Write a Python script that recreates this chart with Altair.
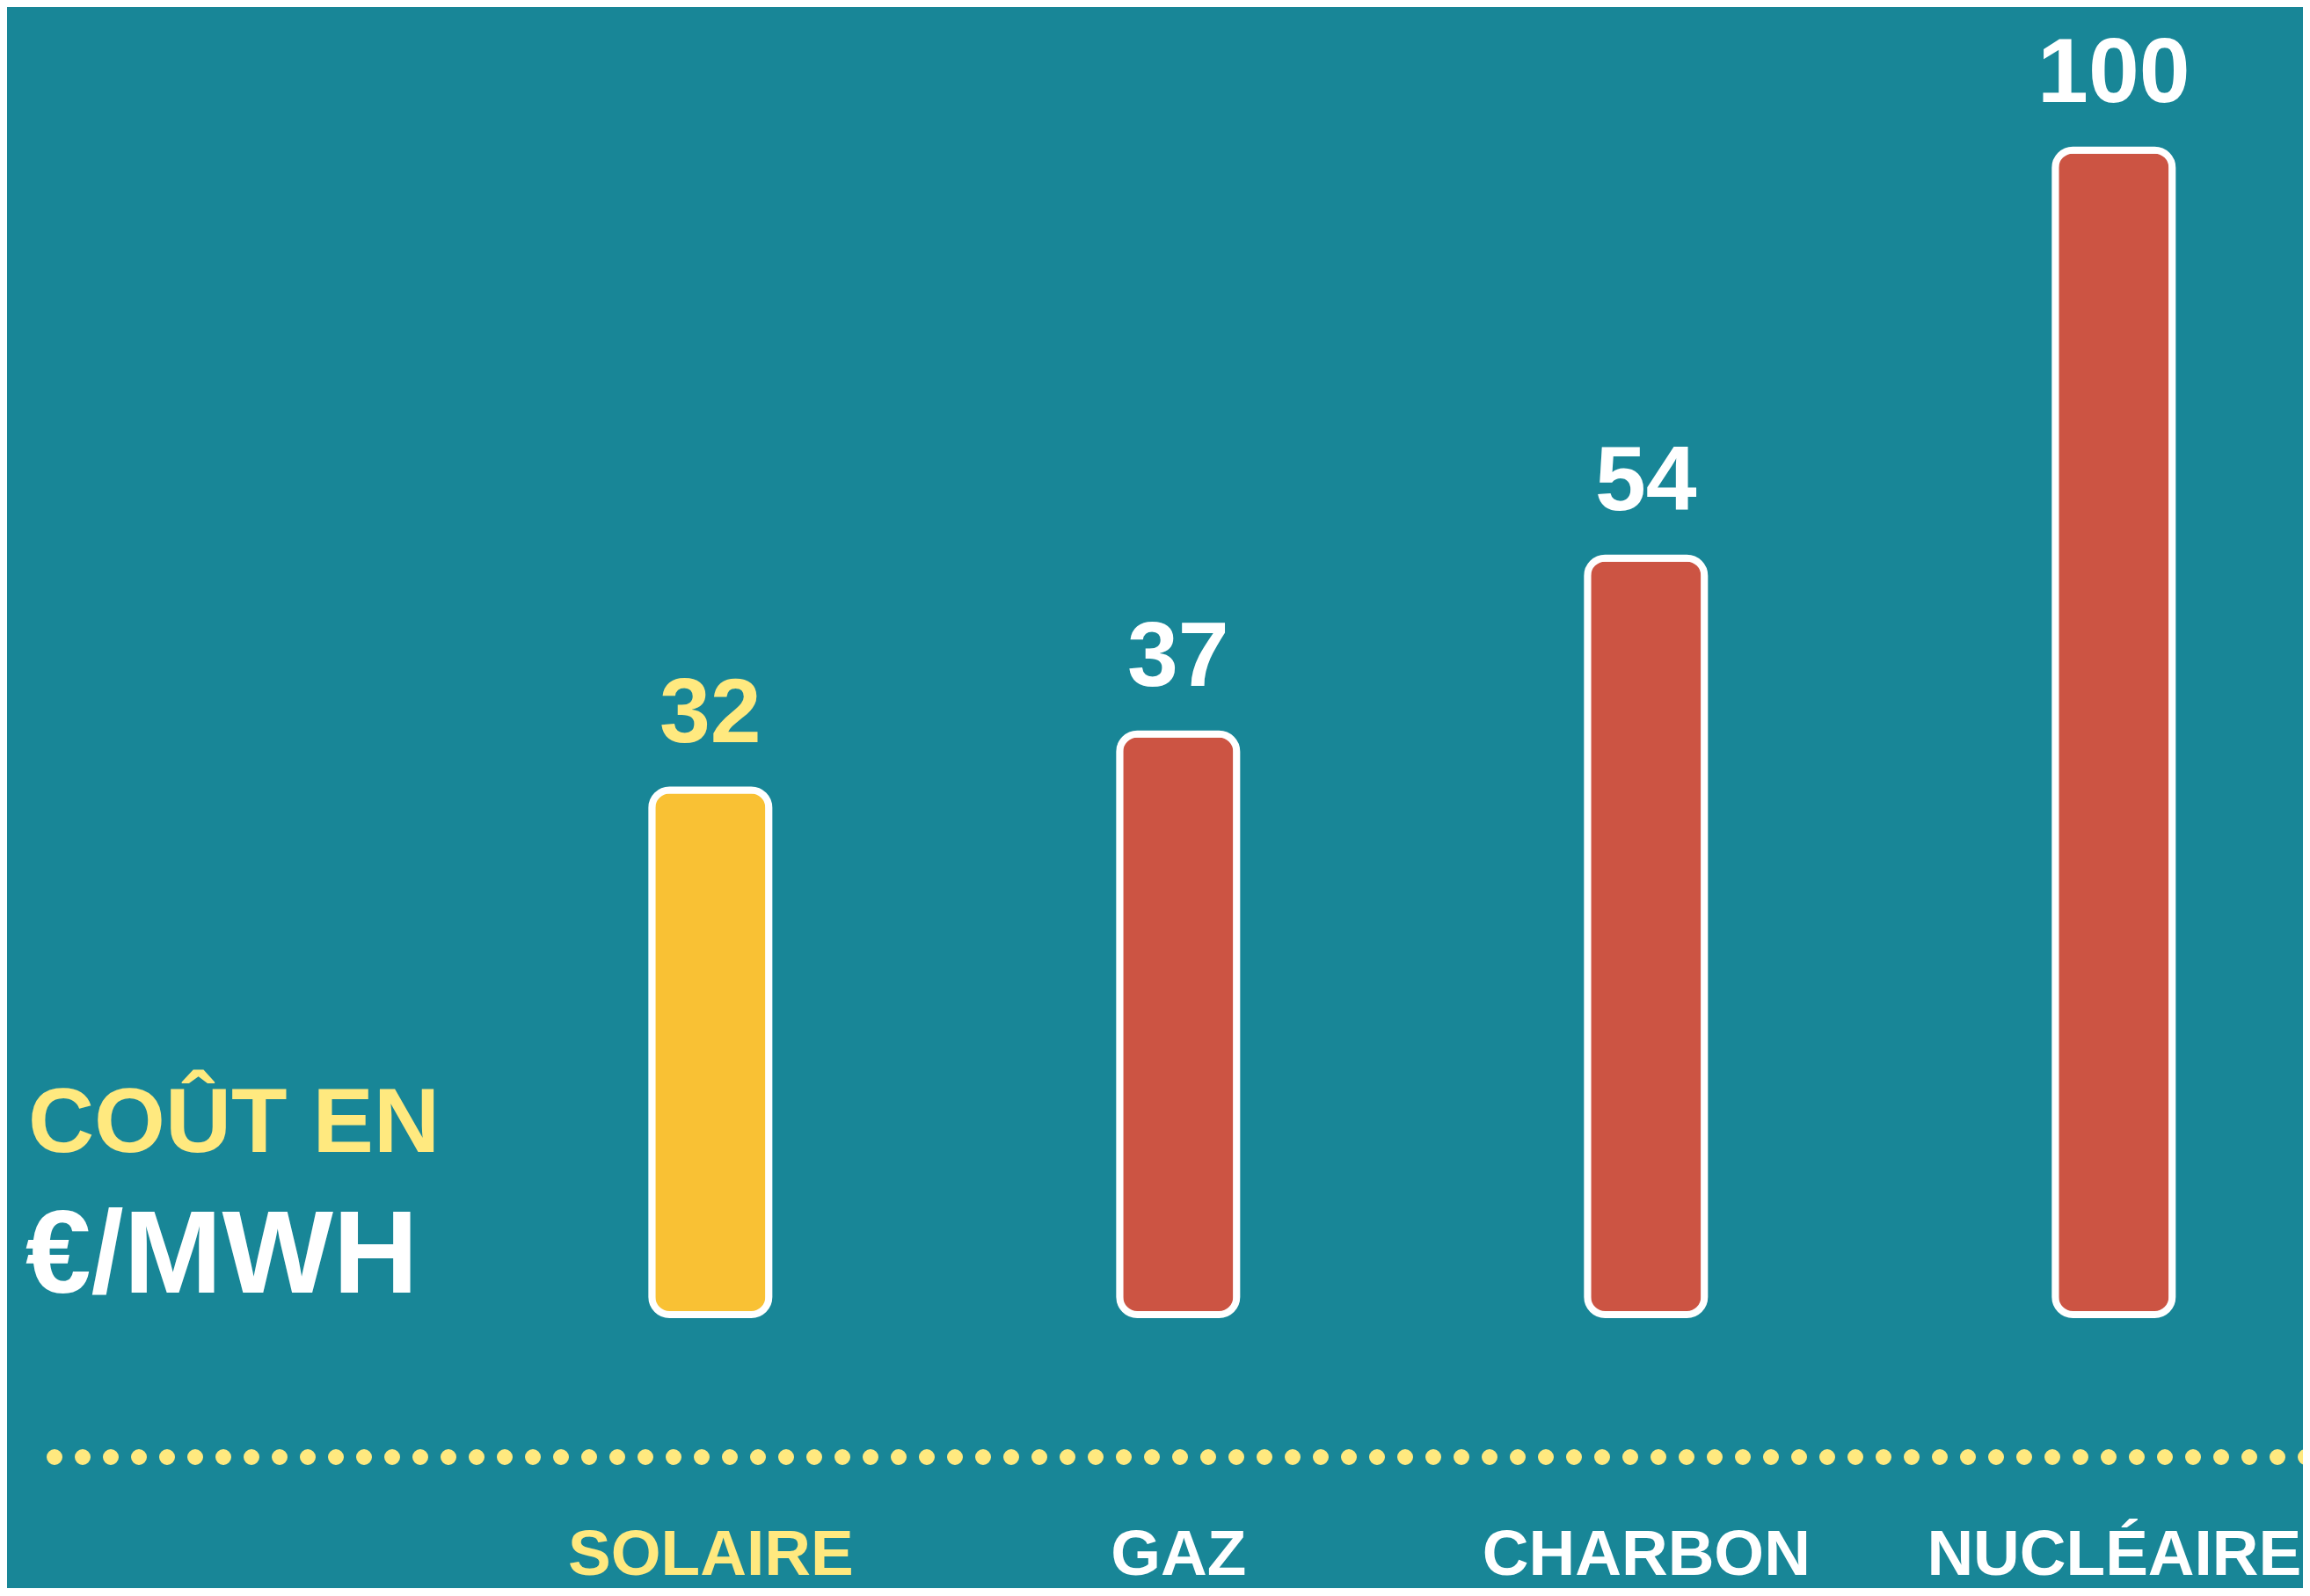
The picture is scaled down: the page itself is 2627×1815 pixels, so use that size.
import altair as alt
import pandas as pd

# ---- data ----
categories = ["SOLAIRE", "GAZ", "CHARBON", "NUCLÉAIRE"]
costs = [32, 37, 54, 100]
bar_colors = ["#F9C134", "#CC5443", "#CC5443", "#CC5443"]
text_colors = ["#FFE97F", "#FFFFFF", "#FFFFFF", "#FFFFFF"]
title_line1 = ["COÛT EN"]
title_line2 = ["€/MWH"]

BG = "#188697"
LIGHT_YELLOW = "#FFE97F"
FONT = "Liberation Sans"

df = pd.DataFrame({
    "cat": categories,
    "cost": costs,
    "bar_color": bar_colors,
    "text_color": text_colors,
})

x_enc = alt.X(
    "cat:N",
    sort=categories,
    scale=alt.Scale(type="point", padding=0.954, align=0.788),
    axis=alt.Axis(
        title=None,
        domain=False,
        ticks=False,
        tickSize=0,
        grid=False,
        labelAngle=0,
        labelFont=FONT,
        labelFontWeight="bold",
        labelFontSize=73,
        labelPadding=295,
        labelBaseline="alphabetic",
        labelLimit=0,
        labelColor=alt.expr(
            " : ".join(
                f"datum.label == '{c}' ? '{col}'" for c, col in zip(categories, text_colors)
            ) + " : '#FFFFFF'"
        ),
    ),
)
y_enc = alt.Y(
    "cost:Q",
    scale=alt.Scale(type="pow", exponent=0.7, domain=[0, 118], nice=False, zero=True),
    axis=None,
)

bars = alt.Chart(df).mark_bar(
    size=133, cornerRadius=20, stroke="#FFFFFF", strokeWidth=8
).encode(
    x=x_enc,
    y=y_enc,
    color=alt.Color("bar_color:N", scale=None, legend=None),
)

values = alt.Chart(df).mark_text(
    dy=-55, baseline="alphabetic", align="center",
    font=FONT, fontWeight="bold", fontSize=104,
).encode(
    x=x_enc,
    y=y_enc,
    text="cost:Q",
    color=alt.Color("text_color:N", scale=None, legend=None),
)

dots = alt.Chart(pd.DataFrame({"k": [0]})).mark_rule(
    strokeDash=[0, 32], strokeCap="round", strokeWidth=18, color=LIGHT_YELLOW
).encode(x=alt.value(54), x2=alt.value(2640), y=alt.value(1649))

t1 = alt.Chart(pd.DataFrame({"t": title_line1})).mark_text(
    align="left", baseline="alphabetic", font=FONT, fontWeight="bold",
    fontSize=104, color=LIGHT_YELLOW,
).encode(text="t:N", x=alt.value(24), y=alt.value(1302))

t2 = alt.Chart(pd.DataFrame({"t": title_line2})).mark_text(
    align="left", baseline="alphabetic", font=FONT, fontWeight="bold",
    fontSize=134, color="#FFFFFF",
).encode(text="t:N", x=alt.value(21), y=alt.value(1462))

chart = alt.layer(bars, values, dots, t1, t2).resolve_scale(
    color="independent"
).properties(
    width=2611,
    height=1487,
    autosize=alt.AutoSizeParams(type="none"),
    padding={"left": 0, "right": 0, "top": 0, "bottom": 311},
    background=BG,
).configure_view(stroke=None).configure_axis(grid=False)

chart.save("out.html", embed_options={"renderer": "svg", "actions": False})
